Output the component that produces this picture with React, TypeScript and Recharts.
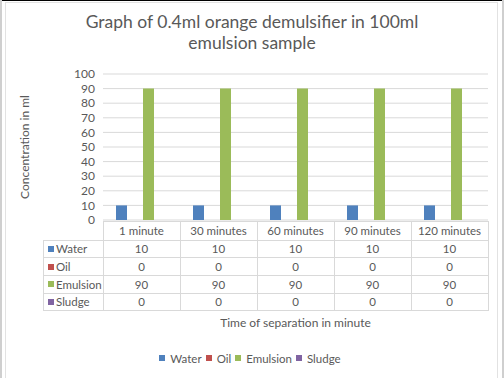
import React from "react";
import { BarChart, Bar, XAxis, YAxis, CartesianGrid, Legend } from "recharts";

const categories = ["1 minute", "30 minutes", "60 minutes", "90 minutes", "120 minutes"];
const waterValues = [10, 10, 10, 10, 10];
const oilValues = [0, 0, 0, 0, 0];
const emulsionValues = [90, 90, 90, 90, 90];
const sludgeValues = [0, 0, 0, 0, 0];
const yTicks = [0, 10, 20, 30, 40, 50, 60, 70, 80, 90, 100];
const seriesNames = ["Water", "Oil", "Emulsion", "Sludge"];
const seriesColors = ["#4F81BD", "#C0504D", "#9BBB59", "#8064A2"];
const titleLines = ["Graph of 0.4ml orange demulsifier in 100ml", "emulsion sample"];
const xTitle = "Time of separation in minute";
const yTitle = "Concentration in ml";

const seriesValues = [waterValues, oilValues, emulsionValues, sludgeValues];
const data = categories.map((c, i) => {
  const row: Record<string, string | number> = { category: c };
  seriesNames.forEach((s, k) => {
    row[s] = seriesValues[k][i];
  });
  return row;
});

const W = 504;
const H = 378;
const M = { top: 74, right: 16, left: 10, bottom: 0 };
const Y_AXIS_W = 93;
const X_AXIS_H = 158;
const BAND = (W - M.left - Y_AXIS_W - M.right) / categories.length;
const HEADER_H = 19;
const ROW_H = 17.7;
const LEGEND_COL_W = 60;
const FONT = "Lato, 'Liberation Sans', sans-serif";
const FS = 11.5;
const TEXT = "#595959";
const LINE = "#d9d9d9";

function TableTick(props: any) {
  const { x, y, index } = props;
  const left = x - BAND / 2;
  const right = x + BAND / 2;
  const top = y + 1;
  const headerBottom = top + HEADER_H;
  const bottom = headerBottom + ROW_H * seriesNames.length;
  const lines: React.ReactNode[] = [];
  lines.push(<line key="t" x1={left} x2={right} y1={top} y2={top} stroke={LINE} />);
  for (let k = 0; k <= seriesNames.length; k++) {
    const yy = headerBottom + ROW_H * k;
    lines.push(<line key={"h" + k} x1={left} x2={right} y1={yy} y2={yy} stroke={LINE} />);
  }
  lines.push(<line key="vl" x1={left} x2={left} y1={top} y2={bottom} stroke={LINE} />);
  if (index === categories.length - 1) {
    lines.push(<line key="vr" x1={right} x2={right} y1={top} y2={bottom} stroke={LINE} />);
  }
  const legendCol: React.ReactNode[] = [];
  if (index === 0) {
    const lx = left - LEGEND_COL_W;
    legendCol.push(<line key="lv" x1={lx} x2={lx} y1={headerBottom} y2={bottom} stroke={LINE} />);
    for (let k = 0; k <= seriesNames.length; k++) {
      const yy = headerBottom + ROW_H * k;
      legendCol.push(<line key={"lh" + k} x1={lx} x2={left} y1={yy} y2={yy} stroke={LINE} />);
    }
    seriesNames.forEach((s, k) => {
      const cy = headerBottom + ROW_H * (k + 0.5);
      legendCol.push(
        <rect key={"lr" + k} x={lx + 5} y={cy - 3} width={6} height={6} fill={seriesColors[k]} />
      );
      legendCol.push(
        <text key={"lt" + k} x={lx + 13} y={cy} dominantBaseline="central" fontSize={FS} fill={TEXT} fontFamily={FONT}>
          {s}
        </text>
      );
    });
  }
  return (
    <g shapeRendering="crispEdges">
      {lines}
      {legendCol}
      <text x={x} y={top + HEADER_H / 2} textAnchor="middle" dominantBaseline="central" fontSize={FS} fill={TEXT} fontFamily={FONT}>
        {categories[index]}
      </text>
      {seriesNames.map((s, k) => (
        <text
          key={s}
          x={x}
          y={headerBottom + ROW_H * (k + 0.5)}
          textAnchor="middle"
          dominantBaseline="central"
          fontSize={FS}
          fill={TEXT}
          fontFamily={FONT}
        >
          {seriesValues[k][index]}
        </text>
      ))}
    </g>
  );
}

function LegendContent() {
  return (
    <div
      style={{
        display: "flex",
        justifyContent: "center",
        alignItems: "center",
        height: 16,
        fontFamily: FONT,
        fontSize: FS,
        color: TEXT,
      }}
    >
      {seriesNames.map((s, k) => (
        <div key={s} style={{ display: "flex", alignItems: "center", marginRight: 4 }}>
          <div style={{ width: 6, height: 6, background: seriesColors[k], marginRight: 5 }} />
          <span>{s}</span>
        </div>
      ))}
    </div>
  );
}

export default function App() {
  return (
    <div style={{ position: "absolute", left: 0, top: 0, width: W, height: H, background: "#fff", overflow: "hidden" }}>
      <BarChart width={W} height={H} data={data} margin={M} barSize={11} barGap={2.5}>
        <CartesianGrid vertical={false} stroke={LINE} />
        <XAxis
          dataKey="category"
          height={X_AXIS_H}
          interval={0}
          axisLine={false}
          tickLine={false}
          tickSize={0}
          tickMargin={0}
          tick={<TableTick />}
          label={{ value: xTitle, position: "insideBottom", offset: 51, fill: TEXT, fontSize: 12, fontFamily: FONT }}
        />
        <YAxis
          width={Y_AXIS_W}
          domain={[0, 100]}
          ticks={yTicks}
          interval={0}
          axisLine={false}
          tickLine={false}
          tick={{ fill: TEXT, fontSize: 12, fontFamily: FONT }}
          label={{
            value: yTitle,
            angle: -90,
            position: "insideLeft",
            offset: 15,
            fill: TEXT,
            fontSize: 12,
            fontFamily: FONT,
            style: { textAnchor: "middle" },
          }}
        />
        <Legend
          layout="horizontal"
          verticalAlign="middle"
          align="center"
          wrapperStyle={{ top: 350, left: 0, width: W, height: 16 }}
          content={() => <LegendContent />}
        />
        {seriesNames.map((s, k) => (
          <Bar key={s} dataKey={s} fill={seriesColors[k]} isAnimationActive={false} />
        ))}
      </BarChart>
      <div
        style={{
          position: "absolute",
          left: 0,
          top: 12,
          width: W,
          textAlign: "center",
          fontFamily: FONT,
          fontSize: 17.5,
          lineHeight: "20.5px",
          color: TEXT,
          pointerEvents: "none",
        }}
      >
        {titleLines.map((t) => (
          <div key={t}>{t}</div>
        ))}
      </div>
      <div style={{ position: "absolute", left: 5, top: 2, width: 493, height: H, border: "1px solid #e2e2e2", boxSizing: "border-box", pointerEvents: "none" }} />
      <div style={{ position: "absolute", left: 0, top: 0, width: W, height: 1, background: "#000" }} />
      <div style={{ position: "absolute", left: 0, top: 0, width: 2, height: H, background: "#cfcfcf" }} />
      <div style={{ position: "absolute", left: W - 2, top: 0, width: 2, height: H, background: "#cfcfcf" }} />
    </div>
  );
}
